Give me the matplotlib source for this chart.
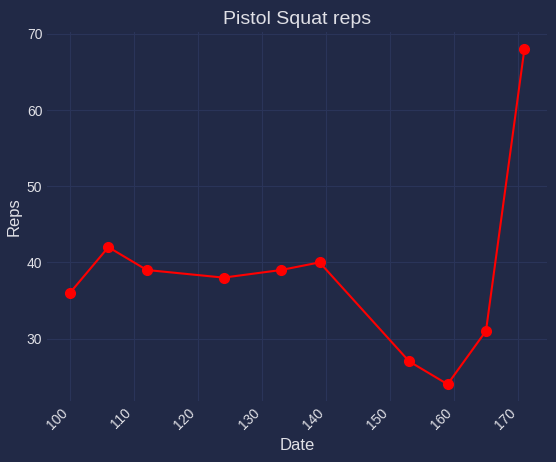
import matplotlib
matplotlib.use("Agg")
import matplotlib.pyplot as plt

# Data
dates = [100, 106, 112, 124, 133, 139, 153, 159, 165, 171]
reps = [36, 42, 39, 38, 39, 40, 27, 24, 31, 68]

bg = "#212946"
grid = "#2A3459"
text = "#e0e0e6"

plt.rcParams["font.family"] = ["Liberation Sans", "DejaVu Sans"]

fig = plt.figure(figsize=(5.56, 4.62), dpi=100, facecolor=bg)
ax = fig.add_axes([0.085, 0.132, 0.899, 0.798], facecolor=bg)

ax.plot(dates, reps, color="red", marker="o", markersize=7, linewidth=1.5)

ax.set_title("Pistol Squat reps", color=text, fontsize=14)
ax.set_xlabel("Date", color=text, fontsize=12)
ax.set_ylabel("Reps", color=text, fontsize=12)
ax.set_yticks([30, 40, 50, 60, 70])
ax.grid(True, color=grid, linewidth=0.8)
ax.set_axisbelow(True)
for s in ax.spines.values():
    s.set_visible(False)
ax.tick_params(colors=text, labelsize=10, length=0)
plt.setp(ax.get_xticklabels(), rotation=45, ha="right")

fig.savefig("out.png", dpi=100, facecolor=bg)
